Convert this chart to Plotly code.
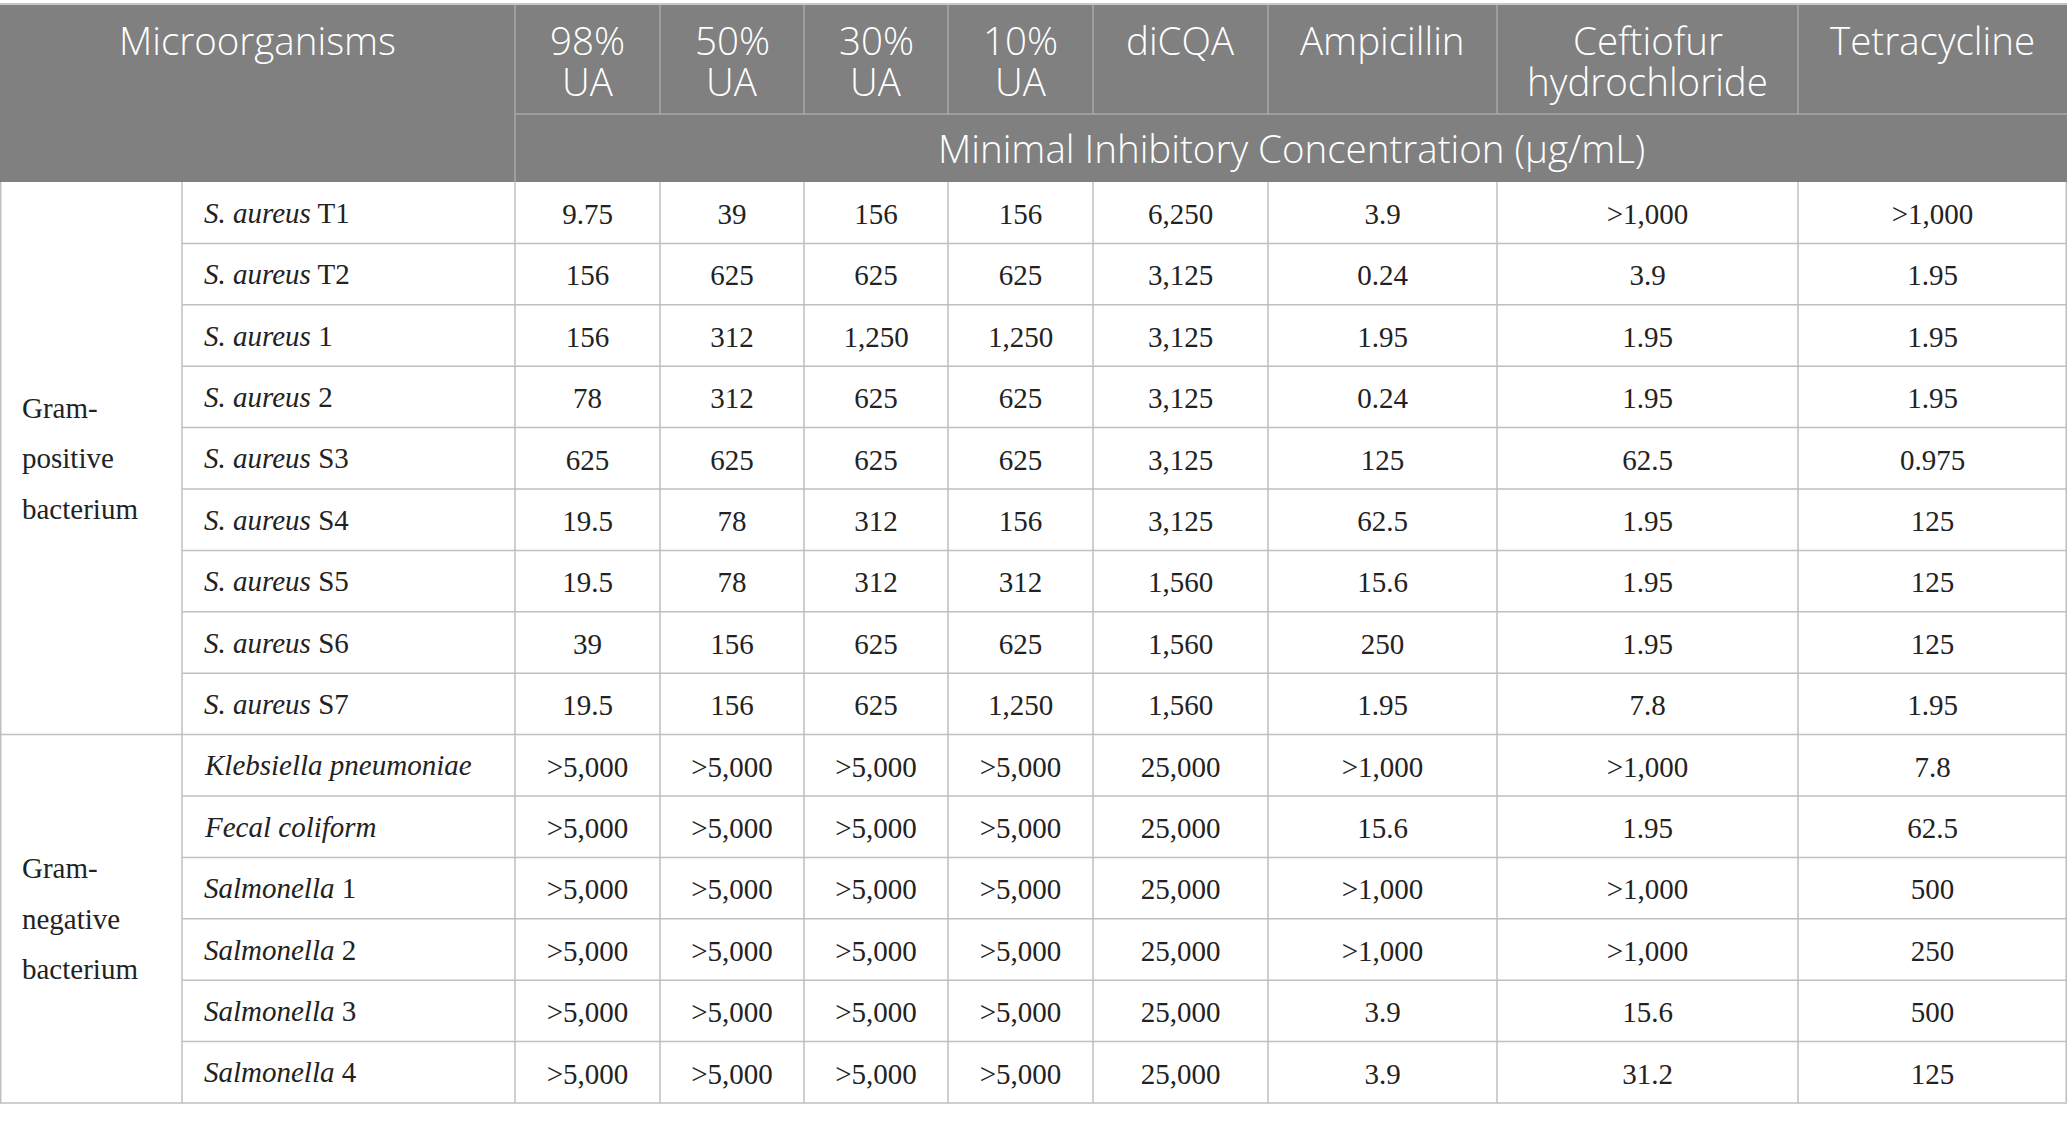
"""
MIC table: uncaria extracts and reference antibiotics vs. bacterial isolates.
Drawn as a table on a pixel-scaled axis so the merged header / group cells work.
"""
import plotly.graph_objects as go


# ---- data -------------------------------------------------------------
HEADERS = ["98%<br>UA", "50%<br>UA", "30%<br>UA", "10%<br>UA", "diCQA",
           "Ampicillin", "Ceftiofur<br>hydrochloride", "Tetracycline"]
ROW_HEADER = "Microorganisms"
UNIT_LABEL = "Minimal Inhibitory Concentration (\u03bcg/mL)"

GROUPS = ["Gram-<br>positive<br>bacterium", "Gram-<br>negative<br>bacterium"]
GROUP_SIZES = [9, 6]

# (italic part, upright part)
STRAINS = [
    ("S. aureus", "T1"), ("S. aureus", "T2"), ("S. aureus", "1"),
    ("S. aureus", "2"), ("S. aureus", "S3"), ("S. aureus", "S4"),
    ("S. aureus", "S5"), ("S. aureus", "S6"), ("S. aureus", "S7"),
    ("Klebsiella pneumoniae", ""), ("Fecal coliform", ""),
    ("Salmonella", "1"), ("Salmonella", "2"), ("Salmonella", "3"),
    ("Salmonella", "4"),
]

UA_98 = ["9.75", "156", "156", "78", "625", "19.5", "19.5", "39", "19.5",
         ">5,000", ">5,000", ">5,000", ">5,000", ">5,000", ">5,000"]
UA_50 = ["39", "625", "312", "312", "625", "78", "78", "156", "156",
         ">5,000", ">5,000", ">5,000", ">5,000", ">5,000", ">5,000"]
UA_30 = ["156", "625", "1,250", "625", "625", "312", "312", "625", "625",
         ">5,000", ">5,000", ">5,000", ">5,000", ">5,000", ">5,000"]
UA_10 = ["156", "625", "1,250", "625", "625", "156", "312", "625", "1,250",
         ">5,000", ">5,000", ">5,000", ">5,000", ">5,000", ">5,000"]
DICQA = ["6,250", "3,125", "3,125", "3,125", "3,125", "3,125", "1,560", "1,560", "1,560",
         "25,000", "25,000", "25,000", "25,000", "25,000", "25,000"]
AMPICILLIN = ["3.9", "0.24", "1.95", "0.24", "125", "62.5", "15.6", "250", "1.95",
              ">1,000", "15.6", ">1,000", ">1,000", "3.9", "3.9"]
CEFTIOFUR = [">1,000", "3.9", "1.95", "1.95", "62.5", "1.95", "1.95", "1.95", "7.8",
             ">1,000", "1.95", ">1,000", ">1,000", "15.6", "31.2"]
TETRACYCLINE = [">1,000", "1.95", "1.95", "1.95", "0.975", "125", "125", "125", "1.95",
                "7.8", "62.5", "500", "250", "500", "125"]

VALUE_COLUMNS = [UA_98, UA_50, UA_30, UA_10, DICQA, AMPICILLIN, CEFTIOFUR, TETRACYCLINE]

# ---- layout (pixels) --------------------------------------------------
W, H = 2067, 1122
COL_WIDTHS = [182, 333, 145, 144, 144, 145, 175, 229, 301, 269]
TOP = 5
HEAD1_H = 109
HEAD2_H = 68
ROW_H = 61.4
VALUE_NUDGE = 4   # scatter text sits a little high vs. annotations

HEADER_BG = "#7f807f"
HEADER_LINE = "#a8a8a8"
GRID = "#bfbfbf"
TEXT = "#222222"
HEAD_FONT = dict(family="Open Sans", size=38.5, color="white", weight=300)
BODY_FONT = dict(family="Liberation Serif", size=29, color=TEXT)

edges = [0]
for w in COL_WIDTHS:
    edges.append(edges[-1] + w)
head1_bot = TOP + HEAD1_H
head2_bot = head1_bot + HEAD2_H
n_rows = len(STRAINS)
row_edges = [head2_bot + i * ROW_H for i in range(n_rows + 1)]
row_mid = [(row_edges[i] + row_edges[i + 1]) / 2 for i in range(n_rows)]

fig = go.Figure()


def line(x0, y0, x1, y1, color, width=1.5):
    fig.add_shape(type="line", x0=x0, y0=y0, x1=x1, y1=y1, xref="x", yref="y",
                  line=dict(color=color, width=width), layer="above")


# header background
fig.add_shape(type="rect", x0=edges[0], x1=edges[-1], y0=TOP, y1=head2_bot,
              xref="x", yref="y", fillcolor=HEADER_BG, line_width=0, layer="below")
line(edges[0], TOP - 1, edges[-1], TOP - 1, "#b5b5b5")
line(edges[2], TOP, edges[2], head2_bot, HEADER_LINE)
line(edges[2], head1_bot, edges[-1], head1_bot, HEADER_LINE)
for x in edges[3:-1]:
    line(x, TOP, x, head1_bot, HEADER_LINE)

# header text
fig.add_annotation(x=(edges[0] + edges[2]) / 2, y=TOP + 35, text=ROW_HEADER,
                   xref="x", yref="y", showarrow=False, font=HEAD_FONT,
                   xanchor="center", yanchor="middle")
for j, label in enumerate(HEADERS):
    cx = (edges[j + 2] + edges[j + 3]) / 2
    for k, part in enumerate(label.split("<br>")):
        fig.add_annotation(x=cx, y=TOP + 35 + k * 41, text=part, xref="x", yref="y",
                           showarrow=False, font=HEAD_FONT,
                           xanchor="center", yanchor="middle")
fig.add_annotation(x=(edges[2] + edges[-1]) / 2, y=(head1_bot + head2_bot) / 2,
                   text=UNIT_LABEL, xref="x", yref="y", showarrow=False,
                   font=HEAD_FONT, xanchor="center", yanchor="middle")

# body grid
start = 0
for g, size in enumerate(GROUP_SIZES):
    for i in range(start + 1, start + size):
        line(edges[1], row_edges[i], edges[-1], row_edges[i], GRID)
    start += size
    line(edges[0], row_edges[start], edges[-1], row_edges[start], GRID)
for x in edges[1:-1]:
    line(x, head2_bot, x, row_edges[-1], GRID)
line(edges[0] + 0.75, head2_bot, edges[0] + 0.75, row_edges[-1], GRID)
line(edges[-1] - 0.75, head2_bot, edges[-1] - 0.75, row_edges[-1], GRID)

# group labels
start = 0
for label, size in zip(GROUPS, GROUP_SIZES):
    mid = (row_edges[start] + row_edges[start + size]) / 2
    parts = label.split("<br>")
    for k, part in enumerate(parts):
        fig.add_annotation(x=edges[0] + 20, y=mid + (k - (len(parts) - 1) / 2) * 50.5,
                           text=part, xref="x", yref="y", showarrow=False,
                           font=BODY_FONT, xanchor="left", yanchor="middle")
    start += size

# strain names
for i, (ital, plain) in enumerate(STRAINS):
    txt = f"<i>{ital}</i>" + (f" {plain}" if plain else "")
    fig.add_annotation(x=edges[1] + 20, y=row_mid[i], text=txt, xref="x", yref="y",
                       showarrow=False, font=BODY_FONT, xanchor="left", yanchor="middle")

# values
for j, col in enumerate(VALUE_COLUMNS):
    cx = (edges[j + 2] + edges[j + 3]) / 2
    fig.add_trace(go.Scatter(
        x=[cx] * len(col), y=[m + VALUE_NUDGE for m in row_mid], text=col, mode="text",
        textposition="middle center", textfont=BODY_FONT,
        hoverinfo="skip", showlegend=False,
    ))

fig.update_layout(
    width=W, height=H,
    margin=dict(l=0, r=0, t=0, b=0),
    paper_bgcolor="white", plot_bgcolor="white",
    xaxis=dict(range=[0, W], visible=False, fixedrange=True),
    yaxis=dict(range=[H, 0], visible=False, fixedrange=True),
)

# page body has a default 8px margin; drop it so the table sits at the corner
fig.write_html("out.html", config={"displayModeBar": False},
               post_script="document.body.style.margin = '0';")
